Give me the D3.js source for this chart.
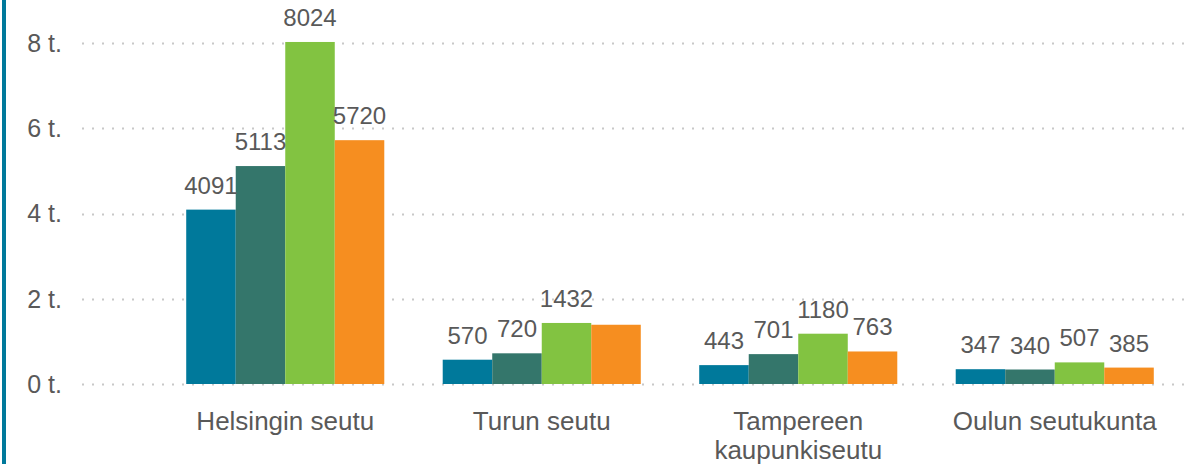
<!DOCTYPE html>
<html>
<head>
<meta charset="utf-8">
<script src="https://cdn.jsdelivr.net/npm/d3@7"></script>
<style>
    html, body { margin: 0; padding: 0; background: #fff; }
    #chart { width: 1193px; height: 464px; overflow: hidden; }
    text { font-family: "Liberation Sans", Arial, sans-serif; fill: #595959; }
</style>
</head>
<body>
<div id="chart"></div>
<script>
// Alueet (x-akseli)
const categories = [["Helsingin seutu"], ["Turun seutu"], ["Tampereen", "kaupunkiseutu"], ["Oulun seutukunta"]];
const seriesKeys = ["s1", "s2", "s3", "s4"];
const seriesColors = ["#00799b", "#34766b", "#82c341", "#f68e20"];

// Arvot sarjoittain, yksi lista per sarja
const series1 = [4091, 570, 443, 347];
const series2 = [5113, 720, 701, 340];
const series3 = [8024, 1432, 1180, 507];
const series4 = [5720, 1390, 763, 385];
// Turun seudun neljännellä pylväällä ei ole arvotekstiä
const showLabel = [
    [true, true, true, true],
    [true, true, true, false],
    [true, true, true, true],
    [true, true, true, true]
];

const yTicks = [0, 2000, 4000, 6000, 8000];
const yTickLabels = ["0 t.", "2 t.", "4 t.", "6 t.", "8 t."];

const width = 1193, height = 464;
const allSeries = [series1, series2, series3, series4];

const svg = d3.select("#chart").append("svg")
    .attr("width", width)
    .attr("height", height);

// Vasen reunaviiva
svg.append("rect")
    .attr("x", 2).attr("y", 0)
    .attr("width", 4).attr("height", height)
    .attr("fill", "#00799b");

const y = d3.scaleLinear().domain([0, 8000]).range([384, 43]);

const x0 = d3.scaleBand()
    .domain(d3.range(categories.length))
    .range([157, 1183])
    .paddingInner(0)
    .paddingOuter(0);

const x1 = d3.scaleBand()
    .domain(seriesKeys)
    .range([0, x0.bandwidth()])
    .paddingOuter(0.59);

// Ruudukko
const grid = svg.append("g").attr("class", "grid");
grid.selectAll("line")
    .data(yTicks)
    .enter().append("line")
    .attr("x1", 82).attr("x2", 1186)
    .attr("y1", d => Math.round(y(d)) + 0.5)
    .attr("y2", d => Math.round(y(d)) + 0.5)
    .attr("stroke", "#c8c8c8")
    .attr("stroke-width", 2)
    .attr("stroke-dasharray", "2 8");

// Y-akselin tekstit
svg.append("g").selectAll("text")
    .data(yTicks)
    .enter().append("text")
    .attr("x", 62)
    .attr("y", d => y(d))
    .attr("dy", "0.35em")
    .attr("text-anchor", "end")
    .style("font-size", "25px")
    .text((d, i) => yTickLabels[i]);

// Pylväät
const groups = svg.append("g").selectAll("g")
    .data(categories)
    .enter().append("g")
    .attr("transform", (d, i) => `translate(${x0(i)},0)`);

groups.selectAll("rect")
    .data((d, i) => seriesKeys.map((k, j) => ({ key: k, value: allSeries[j][i], j })))
    .enter().append("rect")
    .attr("x", d => x1(d.key))
    .attr("y", d => y(d.value))
    .attr("width", x1.bandwidth())
    .attr("height", d => y(0) - y(d.value))
    .attr("fill", d => seriesColors[d.j]);

groups.selectAll("text.val")
    .data((d, i) => seriesKeys.map((k, j) => ({ key: k, value: allSeries[j][i], show: showLabel[i][j] })).filter(d => d.show))
    .enter().append("text")
    .attr("class", "val")
    .attr("x", d => x1(d.key) + x1.bandwidth() / 2)
    .attr("y", d => y(d.value) - 16)
    .attr("text-anchor", "middle")
    .style("font-size", "24px")
    .text(d => d.value);

// Kategoriat
groups.append("text")
    .attr("x", x0.bandwidth() / 2)
    .attr("y", 430)
    .attr("text-anchor", "middle")
    .style("font-size", "26px")
    .selectAll("tspan")
    .data(d => d)
    .enter().append("tspan")
    .attr("x", x0.bandwidth() / 2)
    .attr("dy", (d, i) => i === 0 ? 0 : 29)
    .text(d => d);
</script>
</body>
</html>
